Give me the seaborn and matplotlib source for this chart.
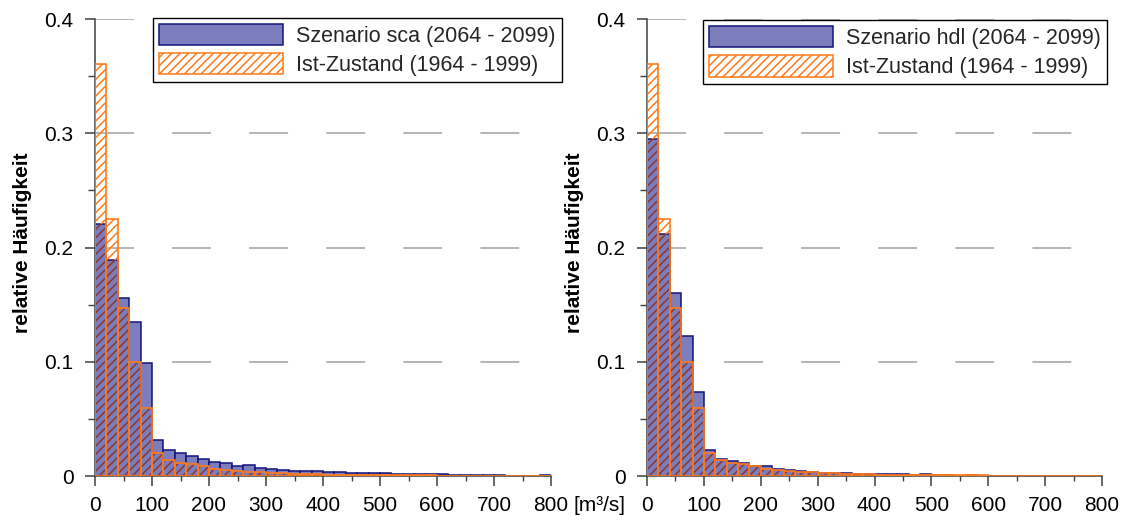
import numpy as np
import pandas as pd
import matplotlib
matplotlib.use("Agg")
import matplotlib.pyplot as plt
from matplotlib.patches import Patch
from matplotlib.ticker import MultipleLocator, FixedLocator, FixedFormatter
import seaborn as sns

# Discharge classes of 20 m³/s from 0 to 800 m³/s (left edges)
bin_left = np.arange(0, 800, 20)

# Relative frequencies per discharge class
freq_sca = [0.221, 0.189, 0.156, 0.135, 0.0985, 0.0315, 0.0227, 0.0197, 0.0178, 0.0147,
            0.0121, 0.0110, 0.0086, 0.0093, 0.0067, 0.0058, 0.0052, 0.0041, 0.0041, 0.0041,
            0.0032, 0.0032, 0.0023, 0.0023, 0.0023, 0.0023, 0.0017, 0.0017, 0.0017, 0.0017,
            0.0015, 0.0009, 0.0008, 0.0008, 0.0009, 0.0009, 0.0, 0.0004, 0.0, 0.0012]

freq_hdl = [0.295, 0.2115, 0.160, 0.1224, 0.0739, 0.0225, 0.0152, 0.0129, 0.0118, 0.0085,
            0.0085, 0.0064, 0.0056, 0.0044, 0.0035, 0.0030, 0.0023, 0.0023, 0.0018, 0.0015,
            0.0015, 0.0015, 0.0015, 0.0012, 0.0018, 0.0006, 0.0006, 0.0, 0.0006, 0.0,
            0.0, 0.0, 0.0, 0.0, 0.0003, 0.0, 0.0, 0.0003, 0.0, 0.0003]

freq_ist = [0.361, 0.225, 0.147, 0.100, 0.0595, 0.0198, 0.0143, 0.0116, 0.0106, 0.0087,
            0.0061, 0.0052, 0.0042, 0.0037, 0.0032, 0.0028, 0.0023, 0.0021, 0.0018, 0.0015,
            0.0012, 0.0012, 0.0009, 0.0009, 0.0009, 0.0007, 0.0006, 0.0006, 0.0005, 0.0005,
            0.0004, 0.0004, 0.0004, 0.0003, 0.0003, 0.0003, 0.0003, 0.0003, 0.0003, 0.0003]

label_sca = "Szenario sca (2064 - 2099)"
label_hdl = "Szenario hdl (2064 - 2099)"
label_ist = "Ist-Zustand (1964 - 1999)"
y_label = "relative Häufigkeit"
x_unit = "[m³/s]"
y_ticks = [0, 0.1, 0.2, 0.3, 0.4]
y_tick_labels = ["0", "0.1", "0.2", "0.3", "0.4"]
x_ticks = [0, 100, 200, 300, 400, 500, 600, 700, 800]
x_tick_labels = ["0", "100", "200", "300", "400", "500", "600", "700", "800"]

sns.set_theme(style="ticks")
plt.rcParams["font.family"] = ["Liberation Sans", "DejaVu Sans"]
plt.rcParams["hatch.linewidth"] = 1.1
plt.rcParams["lines.scale_dashes"] = False

BLUE_FACE = "#7c7dbc"
NAVY = "#14147c"
ORANGE = "#ff7a1a"
BROWN = "#8a3834"
AXIS = "#404040"
FS = 15
LEG_FS = 15.5

fig = plt.figure(figsize=(11.25, 5.22), dpi=100)
ax1 = fig.add_axes([95 / 1125, 46 / 522, 456 / 1125, 457 / 522])
ax2 = fig.add_axes([647 / 1125, 46 / 522, 455 / 1125, 457 / 522])


def panel(ax, scen, scen_label, legend_anchor, show_unit):
    scen = np.asarray(scen)
    ist = np.asarray(freq_ist)
    overlap = np.minimum(scen, ist)
    df = pd.DataFrame({"q": bin_left + 10, "scen": scen, "ist": ist})

    # scenario histogram (solid blue bars)
    sns.histplot(data=df, x="q", weights="scen", binwidth=20, binrange=(0, 800),
                 stat="count", color=BLUE_FACE, edgecolor=NAVY, linewidth=1.1,
                 alpha=1, ax=ax, zorder=2)
    # hatching of the reference period: darker where it lies over the blue bars
    ax.bar(bin_left, overlap, width=20, align="edge", facecolor="none",
           edgecolor=BROWN, linewidth=0, hatch="////", zorder=3)
    ax.bar(bin_left, ist - overlap, bottom=overlap, width=20, align="edge",
           facecolor="none", edgecolor=ORANGE, linewidth=0, hatch="////", zorder=3)
    # outline of the reference histogram
    sns.histplot(data=df, x="q", weights="ist", binwidth=20, binrange=(0, 800),
                 stat="count", fill=False, color=ORANGE, linewidth=1.2,
                 ax=ax, zorder=4)

    ax.set_xlim(0, 800)
    ax.set_ylim(0, 0.4)
    ax.set_xlabel("")
    ax.set_ylabel(y_label, fontsize=FS, fontweight="bold", color="black")
    ax.yaxis.set_label_coords(-0.138, 0.51)

    ax.xaxis.set_major_locator(FixedLocator(x_ticks))
    ax.xaxis.set_major_formatter(FixedFormatter(x_tick_labels))
    ax.xaxis.set_minor_locator(MultipleLocator(50))
    ax.yaxis.set_major_locator(FixedLocator(y_ticks))
    ax.yaxis.set_major_formatter(FixedFormatter(y_tick_labels))
    ax.yaxis.set_minor_locator(MultipleLocator(0.05))

    ax.tick_params(axis="both", which="major", direction="out", length=7.5,
                   width=1.1, color=AXIS, labelsize=FS, labelcolor="black")
    ax.tick_params(axis="x", which="major", pad=7)
    ax.tick_params(axis="y", which="major", pad=8)
    ax.tick_params(axis="x", which="minor", direction="out", length=3.6, width=1.0, color=AXIS)
    ax.tick_params(axis="y", which="minor", direction="out", length=5, width=1.0, color=AXIS)

    for side in ("top", "right"):
        ax.spines[side].set_visible(False)
    for side in ("left", "bottom"):
        ax.spines[side].set_color(AXIS)
        ax.spines[side].set_linewidth(1.1)

    ax.set_axisbelow(True)
    ax.yaxis.grid(True, color="#a0a0a0", linewidth=1.1, linestyle=(0, (28, 27.5)))
    ax.xaxis.grid(False)

    handles = [Patch(facecolor=BLUE_FACE, edgecolor=NAVY, linewidth=1.1),
               Patch(facecolor="white", edgecolor=ORANGE, hatch="////", linewidth=1.1)]
    leg = ax.legend(handles, [scen_label, label_ist], loc="upper right",
                    bbox_to_anchor=legend_anchor, borderaxespad=0, fontsize=LEG_FS,
                    frameon=True, fancybox=False, framealpha=1, edgecolor="black",
                    handlelength=5.77, handleheight=1.16, labelspacing=0.28,
                    handletextpad=0.6, borderpad=0.28)
    leg.get_frame().set_linewidth(1.0)
    leg.set_zorder(10)

    if show_unit:
        ax.annotate(x_unit, xy=(1, 0), xycoords="axes fraction",
                    xytext=(16, -14.5), textcoords="offset points",
                    ha="left", va="top", fontsize=FS, color="black")


panel(ax1, freq_sca, label_sca, (1.024, 1.003), True)
panel(ax2, freq_hdl, label_hdl, (1.011, 0.998), False)

fig.savefig("out.png", dpi=100, facecolor="white")
